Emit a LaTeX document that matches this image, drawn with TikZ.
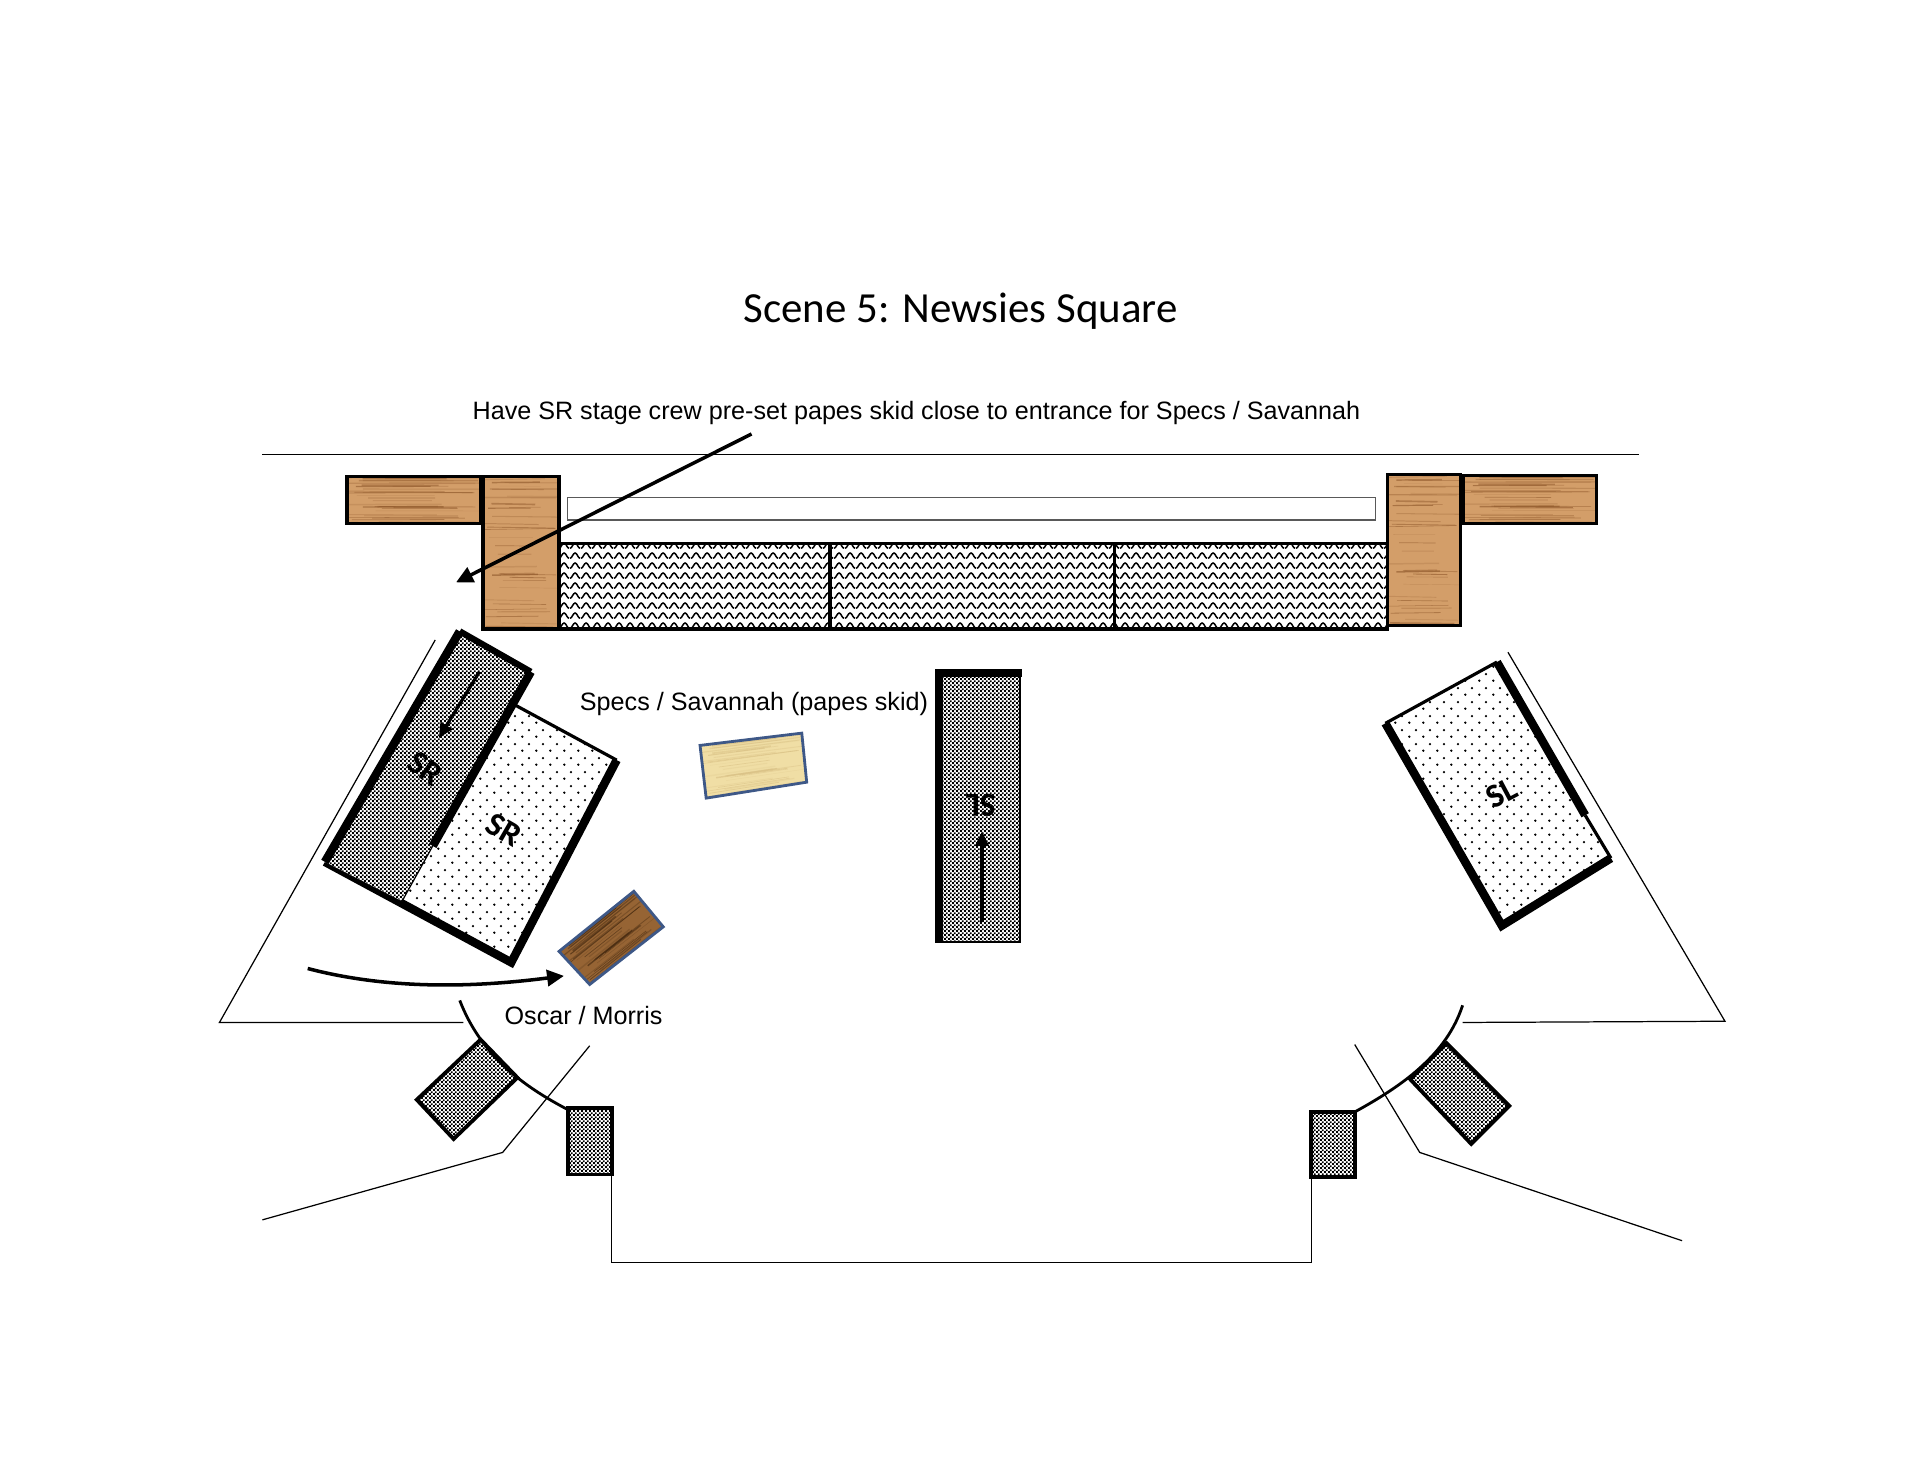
\documentclass[tikz,border=0pt]{standalone}
\usepackage{fontspec}
\setmainfont{Liberation Sans}
\newfontfamily\titlefont{Carlito}
\usetikzlibrary{arrows.meta,calc,patterns}

\definecolor{oakwood}{RGB}{211,158,105}
\definecolor{oakline}{RGB}{140,85,40}
\definecolor{papescol}{RGB}{240,222,165}
\definecolor{papesline}{RGB}{215,190,130}
\definecolor{darkwood}{RGB}{150,100,52}
\definecolor{darkline}{RGB}{60,35,12}
\definecolor{skidblue}{RGB}{62,88,135}

\pgfdeclarepatternformonly{wavefill}{\pgfpointorigin}{\pgfqpoint{3pt}{2.7pt}}{\pgfqpoint{3pt}{2.7pt}}{
  \pgfsetlinewidth{0.45pt}
  \pgfpathmoveto{\pgfqpoint{0pt}{0.5pt}}
  \pgfpathcurveto{\pgfqpoint{0.6pt}{0.5pt}}{\pgfqpoint{0.9pt}{2.1pt}}{\pgfqpoint{1.5pt}{2.1pt}}
  \pgfpathcurveto{\pgfqpoint{2.1pt}{2.1pt}}{\pgfqpoint{2.4pt}{0.5pt}}{\pgfqpoint{3pt}{0.5pt}}
  \pgfusepath{stroke}}
\pgfdeclarepatternformonly{checkfill}{\pgfpointorigin}{\pgfqpoint{1.2pt}{1.2pt}}{\pgfqpoint{1.2pt}{1.2pt}}{
  \pgfpathrectangle{\pgfpointorigin}{\pgfqpoint{0.6pt}{0.6pt}}
  \pgfpathrectangle{\pgfqpoint{0.6pt}{0.6pt}}{\pgfqpoint{0.6pt}{0.6pt}}
  \pgfusepath{fill}}
\pgfdeclarepatternformonly{dotfill}{\pgfpointorigin}{\pgfqpoint{4pt}{4pt}}{\pgfqpoint{4pt}{4pt}}{
  \pgfpathcircle{\pgfqpoint{1pt}{1pt}}{0.38pt}
  \pgfpathcircle{\pgfqpoint{3pt}{3pt}}{0.38pt}
  \pgfusepath{fill}}

\tikzset{
  thinline/.style={line width=0.35pt},
  edge/.style={line width=0.9pt},
  wingedge/.style={line width=1.1pt},
  heavy/.style={line width=2.4pt},
  grayfill/.style={pattern=checkfill, pattern color=black},
  label/.style={inner sep=0pt, font=\fontsize{7.15}{9}\selectfont},
  tag/.style={inner sep=0pt, font=\titlefont\bfseries\fontsize{9.5}{10}\selectfont},
  bigtip/.style={-{Triangle[length=4.8pt,width=4.6pt]}},
  smalltip/.style={-{Triangle[length=4.2pt,width=3.8pt]}}
}

% four corners, fill, streak colour
\newcommand{\plank}[6]{
  \begin{scope}
    \clip #1 -- #2 -- #3 -- #4 -- cycle;
    \fill[#5] #1 -- #2 -- #3 -- #4 -- cycle;
    \pgfmathsetseed{7}
    \foreach \n in {1,...,34}{
      \pgfmathsetmacro{\f}{rnd}
      \pgfmathsetmacro{\g}{\f+0.02*rnd-0.01}
      \pgfmathsetmacro{\ta}{0.5*rnd-0.1}
      \pgfmathsetmacro{\tb}{0.6+0.5*rnd}
      \pgfmathsetmacro{\w}{0.1+0.4*rnd}
      \pgfmathsetmacro{\o}{0.1+0.5*rnd}
      \draw[#6, line width=\w pt, opacity=\o] ($($#1!\f!#4$)!\ta!($#2!\g!#3$)$) -- ($($#1!\f!#4$)!\tb!($#2!\g!#3$)$);
    }
  \end{scope}
}

\begin{document}
\begin{tikzpicture}[x=0.01226cm, y=-0.01226cm]
\useasboundingbox (0,0) rectangle (1566.1,1210.4);

\node[inner sep=0pt, font=\titlefont\fontsize{12.2}{14}\selectfont] (title) at (783.5,254) {Scene 5: Newsies Square};
\node[label] (crewnote) at (747.5,337) {Have SR stage crew pre-set papes skid close to entrance for Specs / Savannah};
\node[label] (specs) at (615,574) {Specs / Savannah (papes skid)};
\node[label] (oscar) at (476,828) {Oscar / Morris};

% stage outline
\draw[thinline] (214,371) -- (1337,371);
\draw[thinline] (355,522) -- (179,834) -- (378,834);
\draw[thinline] (481,853) -- (410,940) -- (214,995);
\draw[thinline] (499,958) -- (499,1030) -- (1070,1030) -- (1070,960);
\draw[thinline] (1105,852) -- (1158,940) -- (1372,1012);
\draw[thinline] (1230,532) -- (1407,833) -- (1193,834);
\draw[line width=0.8pt] (375,816) .. controls (392,860) and (425,885) .. (463,905);
\draw[line width=0.8pt] (1105,907) .. controls (1145,885) and (1180,860) .. (1193,820);

% back wall
\draw[line width=0.4pt, black!65] (463,406) rectangle (1122,424);
\fill[pattern=wavefill] (456,443) rectangle (1132,513);
\draw[edge] (456,443) rectangle (1132,513);
\draw[edge] (677,443) -- (677,513);
\draw[edge] (909,443) -- (909,513);

\plank{(283,389)}{(392,389)}{(392,427)}{(283,427)}{oakwood}{oakline}
\plank{(394,389)}{(456,389)}{(456,513)}{(394,513)}{oakwood}{oakline}
\plank{(1132,387)}{(1191,387)}{(1191,510)}{(1132,510)}{oakwood}{oakline}
\plank{(1194,388)}{(1302,388)}{(1302,427)}{(1194,427)}{oakwood}{oakline}
\draw[edge] (283,389) rectangle (392,427);
\draw[edge] (394,389) rectangle (456,513);
\draw[edge] (1132,387) rectangle (1191,510);
\draw[edge] (1194,388) rectangle (1302,427);

% SR wagons
\fill[pattern=dotfill] (420,575) -- (503,620) -- (417,785) -- (328,735) -- cycle;
\draw[edge] (420,575) -- (503,620);
\draw[heavy] (503,620) -- (417,785) -- (265,703);
\fill[white] (375,515) -- (433,548) -- (328,735) -- (265,703) -- cycle;
\fill[grayfill] (375,515) -- (433,548) -- (328,735) -- (265,703) -- cycle;
\draw[heavy] (265,703) -- (375,515);
\draw[line width=1.8pt] (375,515) -- (433,548);
\draw[heavy] (433,548) -- (353,690);
\draw[thinline] (353,690) -- (328,735);
\node[tag, rotate=-35] (srback) at (347,627) {SR};
\node[tag, rotate=-30] (srfront) at (411,677) {SR};
\coordinate (srstart) at (391,548);
\coordinate (srend) at (358,602);
\draw[line width=0.9pt, smalltip] (srstart) -- (srend);

% center wagon
\fill[grayfill] (766,549) rectangle (832,768);
\draw[line width=0.6pt] (832,549) -- (832,768) -- (766,768);
\draw[heavy] (766,769) -- (766,549) -- (834,549);
\node[tag, rotate=180] (slback) at (800,657) {SL};
\coordinate (slstart) at (801,752);
\coordinate (slend) at (801,678);
\draw[line width=0.9pt, smalltip] (slstart) -- (slend);

% SL wagon
\fill[pattern=dotfill] (1221,540) -- (1314,700) -- (1225,755) -- (1130,590) -- cycle;
\draw[edge] (1130,590) -- (1221,540);
\draw[heavy] (1221,540) -- (1293,665);
\draw[edge] (1293,665) -- (1314,700);
\draw[heavy] (1314,700) -- (1225,755) -- (1130,590);
\node[tag, rotate=28] (slfront) at (1225,647) {SL};

% skids
\plank{(571,608)}{(654,598)}{(658,638)}{(576,651)}{papescol}{papesline}
\draw[line width=0.8pt, skidblue] (571,608) -- (654,598) -- (658,638) -- (576,651) -- cycle;
\plank{(456,776)}{(517,727)}{(541,756)}{(481,803)}{darkwood}{darkline}
\draw[line width=0.8pt, skidblue] (456,776) -- (517,727) -- (541,756) -- (481,803) -- cycle;

% wing units
\fill[grayfill] (392,848) -- (422,879) -- (370,929) -- (340,897) -- cycle;
\draw[wingedge] (392,848) -- (422,879) -- (370,929) -- (340,897) -- cycle;
\fill[grayfill] (463,904) rectangle (499,958);
\draw[wingedge] (463,904) rectangle (499,958);
\fill[grayfill] (1069,907) rectangle (1105,960);
\draw[wingedge] (1069,907) rectangle (1105,960);
\fill[grayfill] (1180,851) -- (1231,902) -- (1200,933) -- (1150,880) -- cycle;
\draw[wingedge] (1180,851) -- (1231,902) -- (1200,933) -- (1150,880) -- cycle;

% arrows
\coordinate (notestart) at (613,354);
\coordinate (noteend) at (372,475);
\draw[line width=1pt, bigtip] (notestart) -- (noteend);
\coordinate (oscarstart) at (251,790);
\coordinate (oscarend) at (460,796);
\draw[line width=1pt, bigtip] (oscarstart) .. controls (320,808) and (390,805) .. (oscarend);
\end{tikzpicture}
\end{document}
